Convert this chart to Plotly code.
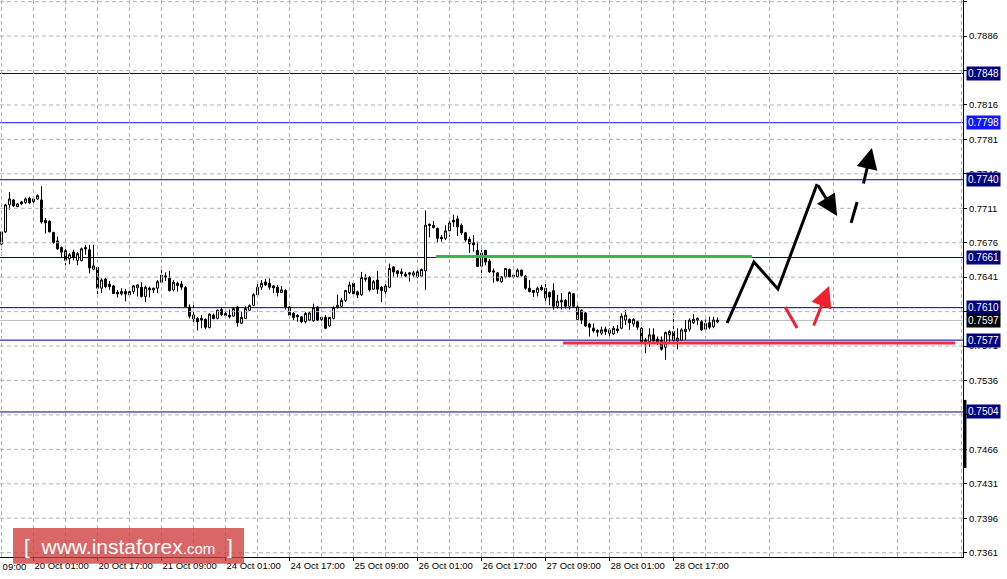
import plotly.graph_objects as go

# ---------------- data (AUDUSD H1 candles) ----------------
open_ = [0.76745,0.7687,0.77145,0.77195,0.77128,0.77175,0.77168,0.77212,0.77178,0.77205,
0.77195,0.76988,0.76978,0.76865,0.76778,0.76711,0.76678,0.76598,0.76665,0.76581,
0.76578,0.76711,0.76688,0.76491,0.76508,0.76298,0.76391,0.76338,0.76321,0.76258,
0.76241,0.76264,0.76231,0.76264,0.76301,0.76308,0.76214,0.76298,0.76281,0.76298,
0.76358,0.76424,0.76398,0.76281,0.76348,0.76341,0.76304,0.76107,0.76024,0.75991,
0.75991,0.75981,0.75897,0.76024,0.75991,0.76081,0.76041,0.76024,0.76014,0.76107,
0.75941,0.75991,0.76074,0.76124,0.76231,0.76308,0.76361,0.76348,0.76321,0.76308,
0.76254,0.76274,0.76107,0.76041,0.76024,0.76007,0.75957,0.75974,0.75967,0.76107,
0.76001,0.76001,0.75914,0.75991,0.76101,0.76114,0.76174,0.76254,0.76348,0.76261,
0.76231,0.76408,0.76408,0.76288,0.76381,0.76308,0.76264,0.76308,0.76514,0.76474,
0.76464,0.76441,0.76454,0.76431,0.76464,0.76421,0.76474,0.76948,0.76935,0.76905,
0.76815,0.76805,0.76881,0.76988,0.77002,0.76938,0.76861,0.76795,0.76761,0.76681,
0.76521,0.76681,0.76574,0.76474,0.76454,0.76364,0.76414,0.76488,0.76431,0.76414,
0.76481,0.76421,0.76298,0.76274,0.76254,0.76308,0.76298,0.76254,0.76274,0.76114,
0.76174,0.76174,0.76114,0.76241,0.76107,0.76074,0.76047,0.75934,0.75891,0.75867,
0.75841,0.75881,0.75874,0.75834,0.75884,0.75891,0.75974,0.75981,0.75934,0.75957,
0.75891,0.7577,0.75753,0.75824,0.75781,0.7577,0.75697,0.75824,0.75857,0.75763,
0.7577,0.75857,0.75881,0.75947,0.75974,0.75957,0.75881,0.75947,0.75907,0.75957]

high = [0.7688,0.77155,0.77275,0.77205,0.77165,0.77185,0.77218,0.77228,0.77218,0.77252,
0.77335,0.77012,0.76988,0.76871,0.76821,0.76721,0.76698,0.76658,0.76688,0.76665,
0.76711,0.76738,0.76738,0.76738,0.76514,0.76398,0.76404,0.76371,0.76331,0.76281,
0.76298,0.76291,0.76281,0.76331,0.76338,0.76358,0.76324,0.76314,0.76304,0.76381,
0.76498,0.76458,0.76474,0.76381,0.76364,0.76371,0.76321,0.76134,0.76141,0.76007,
0.76024,0.75991,0.76041,0.76041,0.76081,0.76101,0.76074,0.76081,0.76107,0.76114,
0.76057,0.76114,0.76134,0.76248,0.76341,0.76381,0.76394,0.76398,0.76331,0.76331,
0.76321,0.76288,0.76114,0.76057,0.76034,0.76017,0.76057,0.76057,0.76141,0.76114,
0.76024,0.76024,0.76007,0.76114,0.76231,0.76198,0.76281,0.76364,0.76354,0.76274,
0.76464,0.76441,0.76421,0.76381,0.76474,0.76321,0.76348,0.76548,0.76521,0.76481,
0.76498,0.76464,0.76464,0.76474,0.76481,0.76498,0.77088,0.76955,0.76981,0.76915,
0.76838,0.76938,0.76988,0.77045,0.77035,0.76955,0.76871,0.76821,0.76838,0.76771,
0.76688,0.76688,0.76595,0.76498,0.76464,0.76421,0.76504,0.76498,0.76454,0.76498,
0.76488,0.76431,0.76381,0.76281,0.76314,0.76331,0.76348,0.76264,0.76348,0.76231,
0.76248,0.76188,0.76264,0.76248,0.76124,0.76081,0.76057,0.75947,0.75941,0.75881,
0.75907,0.75907,0.75891,0.75914,0.75924,0.76041,0.76074,0.75991,0.75991,0.75967,
0.75901,0.75791,0.75891,0.75891,0.75807,0.75807,0.75857,0.75874,0.76041,0.75891,
0.75891,0.75974,0.75991,0.76034,0.76001,0.75974,0.75981,0.76007,0.76007,0.76001]

low = [0.7669,0.7686,0.77095,0.77125,0.7712,0.77145,0.77155,0.77155,0.77158,0.77195,
0.76955,0.76855,0.76865,0.76751,0.76688,0.76611,0.76531,0.76541,0.76581,0.76531,
0.76571,0.76638,0.76448,0.76481,0.76238,0.76248,0.76298,0.76281,0.76238,0.76204,
0.76224,0.76164,0.76214,0.76238,0.76214,0.76204,0.76157,0.76204,0.76248,0.76248,
0.76348,0.76371,0.76264,0.76264,0.76264,0.76281,0.76107,0.75991,0.75941,0.75867,
0.75891,0.75881,0.75891,0.75981,0.75981,0.76014,0.76007,0.75991,0.76007,0.75907,
0.75934,0.75984,0.76067,0.76114,0.76214,0.76281,0.76321,0.76281,0.76248,0.76214,
0.76248,0.76081,0.75991,0.75974,0.75957,0.75941,0.75941,0.75967,0.75957,0.75967,
0.75967,0.75881,0.75907,0.75981,0.76091,0.76107,0.76157,0.76241,0.76214,0.76198,
0.76221,0.76364,0.76264,0.76281,0.76241,0.76157,0.76198,0.76298,0.76414,0.76408,
0.76414,0.76408,0.76364,0.76408,0.76398,0.76414,0.76281,0.76815,0.76905,0.76761,
0.76771,0.76788,0.76821,0.76921,0.76828,0.76838,0.76771,0.76655,0.76671,0.76514,
0.76398,0.76531,0.76454,0.76354,0.76364,0.76354,0.76398,0.76408,0.76398,0.76408,
0.76414,0.76281,0.76254,0.76208,0.76214,0.76274,0.76167,0.76124,0.76081,0.76091,
0.76081,0.76091,0.76081,0.76101,0.75974,0.75934,0.75907,0.75807,0.75847,0.75807,
0.75824,0.75824,0.75791,0.75824,0.75841,0.75881,0.75924,0.75874,0.75907,0.75874,
0.75703,0.75637,0.75703,0.75737,0.7572,0.75663,0.7557,0.75753,0.75753,0.75677,
0.75763,0.7577,0.75857,0.75934,0.75924,0.75864,0.75874,0.75881,0.75891,0.75941]

close = [0.7687,0.77145,0.77205,0.77135,0.77155,0.77155,0.77205,0.77165,0.77205,0.77238,
0.76971,0.76961,0.76871,0.76761,0.76698,0.76665,0.76581,0.76638,0.76611,0.76648,
0.76698,0.76698,0.76504,0.76524,0.76298,0.76381,0.76314,0.76314,0.76244,0.76241,
0.76264,0.76238,0.76264,0.76321,0.76331,0.76214,0.76308,0.76281,0.76298,0.76364,
0.76431,0.76411,0.76274,0.76358,0.76324,0.76308,0.76111,0.76014,0.75987,0.75957,
0.75974,0.75901,0.76034,0.75991,0.76074,0.76031,0.76021,0.76007,0.76091,0.75947,
0.76001,0.76091,0.76121,0.76231,0.76308,0.76348,0.76331,0.76308,0.76301,0.76254,
0.76281,0.76107,0.76024,0.76001,0.76007,0.75957,0.76041,0.76047,0.76101,0.75974,
0.75981,0.75891,0.76001,0.76101,0.76124,0.76174,0.76274,0.76331,0.76241,0.76228,
0.76408,0.76388,0.76281,0.76364,0.76288,0.76274,0.76321,0.76498,0.76464,0.76448,
0.76448,0.76421,0.76441,0.76454,0.76414,0.76488,0.76938,0.76935,0.76915,0.76805,
0.76801,0.76881,0.76961,0.76971,0.76921,0.76861,0.76788,0.76748,0.76738,0.76521,
0.76655,0.76564,0.76464,0.76464,0.76374,0.76414,0.76498,0.76414,0.76414,0.76481,
0.76428,0.76298,0.76264,0.76254,0.76298,0.76281,0.76198,0.76208,0.76114,0.76167,
0.76157,0.76114,0.76254,0.76114,0.75981,0.75974,0.75914,0.75901,0.75864,0.75851,
0.75874,0.75857,0.75841,0.75891,0.75867,0.76014,0.76024,0.75947,0.75981,0.75901,
0.75753,0.75753,0.75824,0.75763,0.75753,0.75677,0.75847,0.75857,0.7577,0.75791,
0.75874,0.75881,0.75974,0.75981,0.75991,0.75874,0.75941,0.75901,0.75974,0.75974]

# time-axis labels (bar index -> label)
tick_bars = [8, 24, 40, 56, 72, 88, 104, 120, 136, 152, 168]
tick_labels = ["20 Oct 01:00", "20 Oct 17:00", "21 Oct 09:00", "24 Oct 01:00", "24 Oct 17:00",
               "25 Oct 09:00", "26 Oct 01:00", "26 Oct 17:00", "27 Oct 09:00", "28 Oct 01:00",
               "28 Oct 17:00"]
first_label_bar = -8
first_label = "19 Oct 09:00"
grid_bars = [0, 16, 32, 48, 64, 80, 96, 112, 128, 144, 160, 176, 192, 208, 224, 240]

# price scale
price_ticks = [0.7361, 0.7396, 0.7431, 0.7466, 0.7501, 0.7536, 0.7571, 0.7606, 0.7641,
               0.7676, 0.7711, 0.7746, 0.7781, 0.7816, 0.7851, 0.7886, 0.7921]

# horizontal levels
levels = [0.7848, 0.7798, 0.7740, 0.7661, 0.7610, 0.7577, 0.7504]
level_colors = ["#000080", "#1414ff", "#000080", "#000080", "#000080", "#000080", "#000080"]
last_price = 0.7597

# analyst markup (bar index, price)
forecast_x = [181.4, 188.1, 194.1, 203.9]
forecast_y = [0.75944, 0.76564, 0.76290, 0.77357]
down_arrow = [(203.9, 0.77357), (208.9, 0.77032)]
black_dash_x = [212.4, 213.9]
black_dash_y = [0.76961, 0.77174]
up_arrow = [(215.4, 0.77347), (217.6, 0.77723)]
red_dash_x = [195.9, 198.9]
red_dash_y = [0.76107, 0.75893]
red_arrow = [(202.9, 0.75903), (206.9, 0.76320)]
green_x = [108.6, 187.6]
green_y = [0.7662, 0.7662]
support_x = [140.4, 238.4]
support_y = [0.75741, 0.75741]

# ---------------- figure ----------------
X_MIN, X_MAX = -0.375, 240.375
Y_MIN, Y_MAX = 0.73566, 0.79227
FONT = "Liberation Sans, Arial, sans-serif"
GRID = "#b4b4b4"

fig = go.Figure()

# dashed grid drawn as line traces (vertical every 8 bars, horizontal at price ticks)
gx, gy = [], []
for b in sorted(set(grid_bars + tick_bars)):
    gx += [b, b, None]
    gy += [Y_MIN, Y_MAX, None]
for p in price_ticks:
    gx += [X_MIN, X_MAX, None]
    gy += [p, p, None]
fig.add_trace(go.Scatter(x=gx, y=gy, mode="lines", line=dict(color=GRID, width=1, dash="4px,3px"),
                         showlegend=False, hoverinfo="skip"))

fig.add_trace(go.Candlestick(
    x=list(range(len(open_))), open=open_, high=high, low=low, close=close,
    increasing=dict(line=dict(color="black", width=1), fillcolor="white"),
    decreasing=dict(line=dict(color="black", width=1), fillcolor="black"),
    whiskerwidth=0, showlegend=False, hoverinfo="skip"))

def seg(xs, ys, color, width=3):
    fig.add_trace(go.Scatter(x=xs, y=ys, mode="lines", line=dict(color=color, width=width),
                             showlegend=False, hoverinfo="skip"))

seg(green_x, green_y, "#35b652", 3)
seg(support_x, support_y, "#f0303f", 3)
seg(forecast_x, forecast_y, "black", 3)
seg(black_dash_x, black_dash_y, "black", 3)
seg(red_dash_x, red_dash_y, "#f0202f", 3)

annotations = []
for (tail, head, col) in [(down_arrow[0], down_arrow[1], "black"),
                          (up_arrow[0], up_arrow[1], "black"),
                          (red_arrow[0], red_arrow[1], "#f0202f")]:
    annotations.append(dict(x=head[0], y=head[1], ax=tail[0], ay=tail[1],
                            xref="x", yref="y", axref="x", ayref="y", text="",
                            showarrow=True, arrowhead=2, arrowsize=1.4, arrowwidth=3,
                            arrowcolor=col, standoff=0))

shapes = []
for lv, col in zip(levels, level_colors):
    shapes.append(dict(type="line", xref="paper", x0=0, x1=1, yref="y", y0=lv, y1=lv,
                       line=dict(color=col, width=1), layer="between"))
    annotations.append(dict(xref="paper", x=1, xanchor="left", xshift=3, yref="y", y=lv,
                            yanchor="middle", text=f"{lv:.4f}", showarrow=False,
                            bgcolor=col, borderpad=1,
                            font=dict(family=FONT, size=10, color="white")))
shapes.append(dict(type="line", xref="paper", x0=0, x1=1, yref="y", y0=last_price, y1=last_price,
                   line=dict(color="#c0c0c0", width=1), layer="between"))
annotations.append(dict(xref="paper", x=1, xanchor="left", xshift=3, yref="y", y=last_price,
                        yanchor="middle", text=f"{last_price:.4f}", showarrow=False,
                        bgcolor="black", borderpad=1,
                        font=dict(family=FONT, size=10, color="white")))

# price-scale marker bar and logo
shapes.append(dict(type="line", xref="paper", x0=1.002, x1=1.002, yref="paper", y0=0.16, y1=0.282,
                   line=dict(color="black", width=3)))
shapes.append(dict(type="rect", xref="paper", x0=0.0135, x1=0.2534, yref="paper",
                   y0=-0.012, y1=0.052, line=dict(width=0), fillcolor="rgba(208,60,60,0.78)",
                   layer="above"))
annotations.append(dict(xref="paper", x=0.1334, yref="paper", y=0.019, xanchor="center",
                        yanchor="middle", showarrow=False,
                        text="[&nbsp;&nbsp;www.instaforex<span style='font-size:15px'>.com</span>&nbsp;&nbsp;]",
                        font=dict(family=FONT, size=21, color="white")))

# partially visible first time label
annotations.append(dict(xref="paper", x=(first_label_bar - X_MIN) / (X_MAX - X_MIN),
                        yref="paper", y=0, yshift=-2, xanchor="left", yanchor="top",
                        text=first_label, showarrow=False,
                        font=dict(family=FONT, size=9.5, color="black")))

fig.update_layout(
    width=1007, height=579, autosize=False,
    margin=dict(l=0, r=44, t=0, b=22, autoexpand=False),
    paper_bgcolor="white", plot_bgcolor="white",
    showlegend=False, shapes=shapes, annotations=annotations,
    xaxis=dict(range=[X_MIN, X_MAX], tickmode="array", tickvals=tick_bars, ticktext=tick_labels,
               ticklabelposition="outside right", ticks="outside", ticklen=3, tickcolor="black",
               tickfont=dict(family=FONT, size=9.5, color="black"),
               showgrid=False, showline=True, linecolor="black", linewidth=1, zeroline=False,
               rangeslider=dict(visible=False), fixedrange=True),
    yaxis=dict(range=[Y_MIN, Y_MAX], side="right", tickmode="array", tickvals=price_ticks,
               ticktext=[f"{v:.4f}" for v in price_ticks], ticks="outside", ticklen=3,
               tickcolor="black", tickfont=dict(family=FONT, size=9.5, color="black"),
               showgrid=False, showline=True, linecolor="black", linewidth=1, zeroline=False,
               fixedrange=True),
)

fig.write_html("out.html", config={"displayModeBar": False},
               post_script="document.body.style.margin='0';document.body.style.overflow='hidden';")
